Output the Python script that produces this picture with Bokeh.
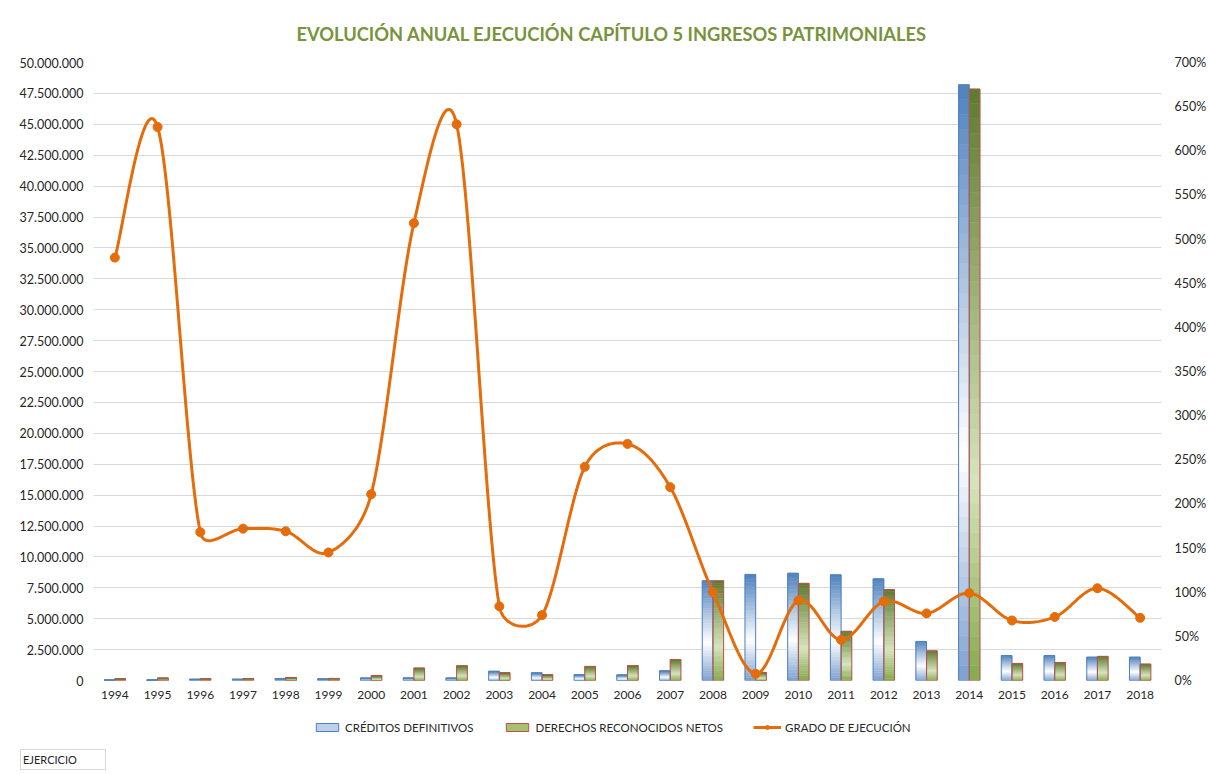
import numpy as np
from bokeh.plotting import figure
from bokeh.models import (Range1d, LinearAxis, FixedTicker, NumeralTickFormatter,
                          Legend, LegendItem, Div)
from bokeh.layouts import column
from bokeh.embed import file_html
from bokeh.resources import INLINE

# ---------------- data ----------------
years = ["1994", "1995", "1996", "1997", "1998", "1999", "2000", "2001", "2002",
         "2003", "2004", "2005", "2006", "2007", "2008", "2009", "2010", "2011",
         "2012", "2013", "2014", "2015", "2016", "2017", "2018"]
creditos = [27000, 30000, 95000, 95000, 145000, 115000, 190000, 195000, 190000,
            750000, 620000, 470000, 450000, 780000, 8070000, 8580000, 8680000, 8550000,
            8230000, 3160000, 48200000, 2020000, 2020000, 1890000, 1890000]
derechos = [130000, 190000, 160000, 163000, 245000, 167000, 400000, 1010000, 1197000,
            630000, 460000, 1140000, 1205000, 1700000, 8070000, 650000, 7860000, 3980000,
            7360000, 2400000, 47850000, 1380000, 1460000, 1950000, 1330000]
grado_pct = [479, 627, 168, 172, 169, 145, 211, 518, 630,
             84, 74, 242, 268, 219, 100, 7.6, 90.6, 46, 89.5,
             76, 99, 68, 72, 104.5, 71]
left_ticks = [i * 2500000 for i in range(21)]
right_ticks = [i * 0.5 for i in range(15)]

title_txt = "EVOLUCIÓN ANUAL EJECUCIÓN CAPÍTULO 5 INGRESOS PATRIMONIALES"
labels = ["CRÉDITOS DEFINITIVOS", "DERECHOS RECONOCIDOS NETOS", "GRADO DE EJECUCIÓN"]
field_button = "EJERCICIO"

FONT = "Lato"
TXT = "#262626"
ORANGE = "#E46C0A"
BLUE_EDGE = "#4F81BD"
RED_EDGE = "#C0504D"

xi = np.arange(len(years), dtype=float)
grado = np.array(grado_pct) / 100.0

W = 1209
p = figure(width=W, height=706, x_range=Range1d(-0.5, 24.5), y_range=Range1d(0, 50000000),
           output_backend="svg", toolbar_location=None,
           min_border_left=93, min_border_right=47, min_border_top=62, min_border_bottom=26,
           background_fill_color="white", border_fill_color="white")
p.outline_line_color = None
p.extra_y_ranges = {"pct": Range1d(0, 7)}

# title
p.title.text = title_txt
p.title.align = "left"
p.title.offset = 203
p.title.text_font = FONT
p.title.text_font_style = "bold"
p.title.text_font_size = "18.3px"
p.title.text_color = "#77933C"
p.title.standoff = 36

# axes
p.xaxis.ticker = FixedTicker(ticks=list(range(len(years))))
p.xaxis.major_label_overrides = {i: y for i, y in enumerate(years)}
p.yaxis.ticker = FixedTicker(ticks=left_ticks)
p.yaxis.major_label_overrides = {v: f"{v:,.0f}".replace(",", ".") for v in left_ticks}
raxis = LinearAxis(y_range_name="pct", ticker=FixedTicker(ticks=right_ticks),
                   formatter=NumeralTickFormatter(format="0%"))
p.add_layout(raxis, "right")
for ax in [p.xaxis[0], p.yaxis[0], raxis]:
    ax.axis_line_color = None
    ax.major_tick_line_color = None
    ax.minor_tick_line_color = None
    ax.major_tick_out = 0
    ax.major_tick_in = 0
    ax.major_label_text_font = FONT
    ax.major_label_text_font_size = "12px"
    ax.major_label_text_color = TXT
p.yaxis[0].major_label_text_font_size = "12.5px"
raxis.major_label_text_font_size = "12.5px"
p.xaxis.major_label_standoff = 10
p.yaxis[0].major_label_standoff = 10
raxis.major_label_standoff = 13

p.xgrid.grid_line_color = None
p.ygrid.ticker = FixedTicker(ticks=left_ticks)
p.ygrid.grid_line_color = "#D9D9D9"
p.ygrid.grid_line_width = 1


# gradient bars drawn as stacked slices
def interp(stops, t):
    for (t0, c0), (t1, c1) in zip(stops[:-1], stops[1:]):
        if t <= t1:
            f = (t - t0) / (t1 - t0) if t1 > t0 else 0
            c = [int(round(a + (b - a) * f)) for a, b in zip(c0, c1)]
            return "#%02x%02x%02x" % tuple(c)
    return "#%02x%02x%02x" % tuple(stops[-1][1])


blue_stops = [(0.0, (79, 129, 189)), (0.62, (255, 255, 255)), (1.0, (125, 160, 208))]
green_stops = [(0.0, (94, 122, 46)), (0.66, (214, 227, 188)), (1.0, (134, 170, 76))]

N = 40


def gradient_bars(vals, offset, stops):
    L, R, B, T, C = [], [], [], [], []
    for i, v in enumerate(vals):
        for k in range(N):
            tt = 1.0 - (k + 0.5) / N  # 0 at top, 1 at bottom
            L.append(i + offset)
            R.append(i + offset + 0.25)
            B.append(v * k / N)
            T.append(v * (k + 1) / N)
            C.append(interp(stops, tt))
    p.quad(left=L, right=R, bottom=B, top=T, fill_color=C, line_color=C, line_width=0.5)


gradient_bars(creditos, -0.25, blue_stops)
gradient_bars(derechos, 0.0, green_stops)
p.quad(left=xi - 0.25, right=xi, bottom=0, top=creditos, fill_alpha=0,
       line_color=BLUE_EDGE, line_width=1)
p.quad(left=xi, right=xi + 0.25, bottom=0, top=derechos, fill_alpha=0,
       line_color=RED_EDGE, line_width=1)

# smoothed line (Excel-like bezier smoothing computed in pixel space)
SX, SY = 42.79, 88.29


def smooth(xs, ys, n=30):
    P = np.column_stack([np.asarray(xs) * SX, np.asarray(ys) * SY])
    m = len(P)
    ox, oy = [], []
    for i in range(m - 1):
        p0 = P[i - 1] if i > 0 else P[i]
        p1, p2 = P[i], P[i + 1]
        p3 = P[i + 2] if i + 2 < m else P[i + 1]
        d12 = np.hypot(*(p2 - p1))
        t0 = p2 - p0
        t3 = p3 - p1
        d02 = np.hypot(*t0)
        d13 = np.hypot(*t3)
        a0 = min(d02 / 6.0, d12 / 2.0)
        a3 = min(d13 / 6.0, d12 / 2.0)
        c1 = p1 + (t0 / d02 * a0 if d02 > 0 else 0)
        c2 = p2 - (t3 / d13 * a3 if d13 > 0 else 0)
        t = np.linspace(0, 1, n, endpoint=(i == m - 2))[:, None]
        pts = ((1 - t) ** 3) * p1 + 3 * ((1 - t) ** 2) * t * c1 + 3 * (1 - t) * t ** 2 * c2 + t ** 3 * p2
        ox.extend(pts[:, 0] / SX)
        oy.extend(pts[:, 1] / SY)
    return ox, oy


sx, sy = smooth(xi, grado)
p.line(sx, sy, y_range_name="pct", line_color=ORANGE, line_width=3)
p.scatter(xi, grado, y_range_name="pct", size=9, fill_color=ORANGE, line_color=ORANGE)

# ---------------- legend strip ----------------
q = figure(width=W, height=40, x_range=Range1d(0, W), y_range=Range1d(0, 40),
           output_backend="svg", toolbar_location=None, min_border=0,
           x_axis_location=None, y_axis_location=None,
           background_fill_color="white", border_fill_color="white")
q.outline_line_color = None
q.grid.visible = False
lb = q.quad(left=[-50], right=[-40], bottom=[-50], top=[-40], fill_color="#BCD0EA",
            line_color=BLUE_EDGE)
lg = q.quad(left=[-50], right=[-40], bottom=[-50], top=[-40], fill_color="#A7C26E",
            line_color=RED_EDGE)
ln = q.line([-50, -40], [-50, -50], line_color=ORANGE, line_width=3)
sc = q.scatter([-50], [-50], size=9, fill_color=ORANGE, line_color=ORANGE)
legend = Legend(items=[LegendItem(label=labels[0], renderers=[lb]),
                       LegendItem(label=labels[1], renderers=[lg]),
                       LegendItem(label=labels[2], renderers=[ln, sc])],
                orientation="horizontal", location=(220, 12),
                glyph_width=28, glyph_height=10, label_standoff=4, spacing=30,
                padding=5, margin=0, border_line_color=None, background_fill_alpha=0,
                label_text_font=FONT, label_text_font_size="11.5px", label_text_color=TXT,
                label_height=14)
q.add_layout(legend, "center")

div = Div(text=field_button, width=86, height=21, margin=(3, 0, 0, 20),
          styles={"border": "1px solid #d9d9d9", "font-family": FONT, "font-size": "11px",
                  "line-height": "19px", "padding-left": "2px", "box-sizing": "border-box",
                  "color": TXT})

layout = column(p, q, div, spacing=0)
open("out.html", "w").write(file_html(layout, INLINE))
